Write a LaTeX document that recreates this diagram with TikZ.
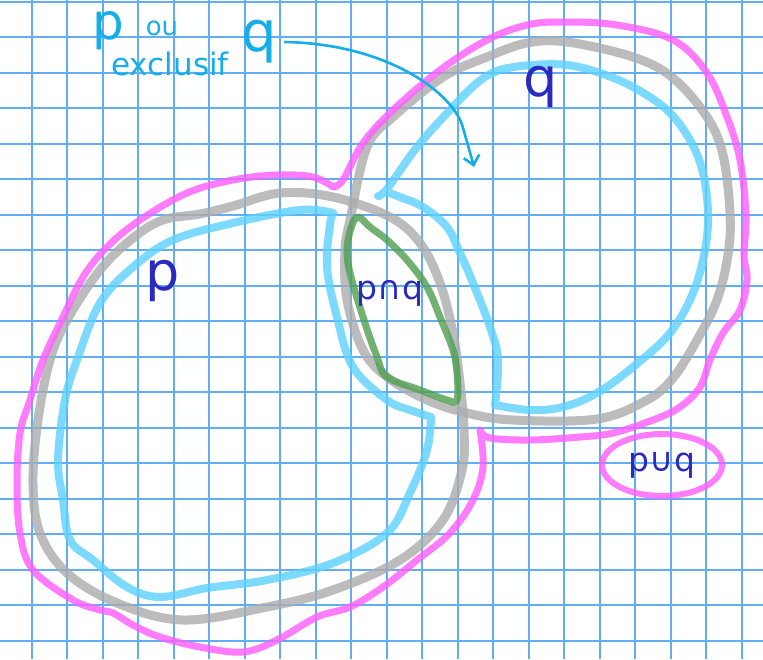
\documentclass[tikz,border=0pt]{standalone}
\usepackage{fontspec}
\setmainfont{DejaVu Sans}
\usepackage{tikz}
\usetikzlibrary{arrows.meta,positioning,shapes.geometric}
\definecolor{vnGrid}{HTML}{62AEF6}
\definecolor{vnGray}{HTML}{ACACAC}
\definecolor{vnSky}{HTML}{5CD0FF}
\definecolor{vnPink}{HTML}{FF5CFF}
\definecolor{vnGreen}{HTML}{4E9E4E}
\definecolor{vnInk}{HTML}{2A2AC0}
\definecolor{vnPen}{HTML}{16AEEA}
\newcommand{\handsize}[1]{\fontsize{#1}{#1}\selectfont}
\tikzset{
  gridline/.style={vnGrid,line width=1.7pt},
  pen/.style={line width=#1,line cap=round,line join=round,opacity=0.8},
  pen/.default=8pt,
  setlabel/.style={text=vnInk,inner sep=0pt},
  captext/.style={text=vnPen,inner sep=0pt},
  arr/.style={vnPen,line width=2.6pt,line cap=round,-{Straight Barb[length=9pt,width=16pt,line width=2.6pt]}}
}

\begin{document}
\begin{tikzpicture}[x=1pt,y=-1pt]
  \useasboundingbox[fill=white] (0,0) rectangle (763,659);
  \foreach \k in {0,...,21} \draw[gridline] ({-3.8+35.5*\k},0) -- ++(0,659);
  \foreach \k in {0,...,18} \draw[gridline] (0,{1.7+35.5*\k}) -- ++(763,0);

  \draw[pen=9pt,vnGray] plot[smooth cycle,tension=0.6] coordinates {(280,193) (333,197) (390,217) (420,243) (440,283) (453,333) (460,383) (464,430) (462,470) (443,520) (400,560) (333,590) (267,607) (183,620) (117,603) (67,573) (40,533) (33,483) (38,420) (50,360) (67,320) (100,270) (133,238) (163,220) (200,214) (233,206)};
  \draw[pen=9pt,vnGray] plot[smooth cycle,tension=0.6] coordinates {(350,220) (367,147) (393,117) (443,77) (487,57) (527,43) (567,42) (633,57) (673,78) (707,117) (723,155) (730,213) (728,255) (717,300) (697,340) (673,378) (647,400) (597,419) (513,420) (467,413) (427,400) (387,377) (363,350) (347,300) (345,250)};

  \draw[pen,vnSky] plot[smooth,tension=0.6] coordinates {(333,213) (300,210) (233,223) (173,240) (133,267) (100,303) (77,360) (65,400) (58,460) (63,500) (70,540) (93,560) (127,587) (160,597) (207,588) (267,580) (333,563) (387,533) (410,493) (427,450) (431,417)}
    -- plot[smooth,tension=0.6] coordinates {(431,417) (410,410) (387,400) (353,367) (337,317) (327,267) (330,225) (333,213)};
  \draw[pen,vnSky] plot[smooth,tension=0.6] coordinates {(378,196) (387,189) (417,147) (450,110) (477,83) (500,70) (533,65) (567,65) (600,73) (633,87) (667,110) (690,140) (703,173) (708,213) (705,250) (693,293) (670,333) (633,367) (597,393) (563,407) (530,410) (495,405)}
    -- plot[smooth,tension=0.6] coordinates {(495,405) (498,360) (490,327) (473,283) (460,253) (447,227) (423,207) (400,197) (387,192)};

  \draw[pen=7pt,vnGreen] plot[smooth cycle,tension=0.6] coordinates {(358,217) (370,227) (387,240) (407,260) (427,287) (440,317) (453,350) (457,373) (457,400) (447,400) (420,390) (387,377) (377,357) (363,317) (350,273) (347,250) (351,228)};

  \draw[pen=7pt,vnPink] plot[smooth,tension=0.6] coordinates {(333,187) (313,177) (277,175) (233,180) (187,193) (140,220) (107,247) (83,277) (63,317) (43,360) (30,400) (20,433) (17,483) (20,533) (33,570) (73,600) (100,610) (113,613) (133,625) (160,637) (200,647) (243,652) (277,640) (317,617) (350,607) (383,587) (417,560) (450,533) (473,500) (483,467) (480,430)}
    -- plot[smooth,tension=0.6] coordinates {(480,430) (490,438) (530,440) (580,437) (613,433) (653,420) (680,407) (700,387) (710,360) (723,333) (740,310) (747,280) (744,255) (746,215) (740,160) (727,117) (707,73) (673,40) (617,25) (563,22) (527,25) (487,40) (440,70) (393,110) (363,143) (343,180) (333,187)};

  \node[setlabel,font=\handsize{54}] (plabel) at (163,281) {p};
  \node[setlabel,font=\handsize{54}] (qlabel) at (541,87) {q};
  \node[setlabel,font=\handsize{33}] (inter) at (390,293) {p∩q};
  \node[setlabel,font=\handsize{33},draw=vnPink,line width=6pt,opacity=0.8,text opacity=1,ellipse,minimum width=120pt,minimum height=62pt] (union) at (662,465) {p∪q};

  \node[captext,font=\handsize{50}] (capp) at (108,31) {p};
  \node[captext,font=\handsize{26}] (capou) at (162,28) {ou};
  \node[captext,font=\handsize{31}] (capex) at (170,64) {exclusif};
  \node[captext,font=\handsize{56}] (capq) at (259,42) {q};
  \coordinate (arrtip) at (474,167);
  \draw[arr] ([xshift=8pt]capq.east) .. controls (390,44) and (455,95) .. (463,128) .. controls (469,146) .. (arrtip);
\end{tikzpicture}
\end{document}
